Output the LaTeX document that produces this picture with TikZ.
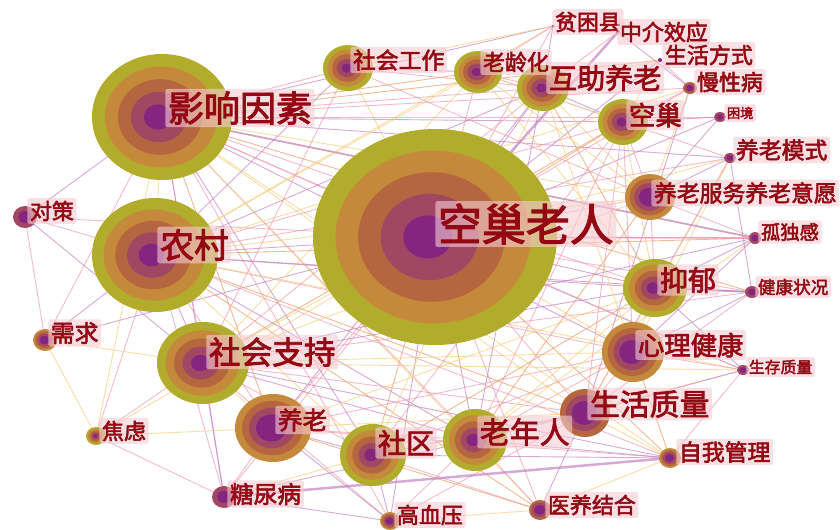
\documentclass[tikz,border=0pt]{standalone}
\usepackage{fontspec}
\newfontfamily\cjk[FakeBold=2.5]{Noto Sans CJK SC}

\definecolor{ring0}{HTML}{B2AC2C}
\definecolor{ring1}{HTML}{C4893A}
\definecolor{ring2}{HTML}{B5663F}
\definecolor{ring3}{HTML}{A24763}
\definecolor{ring4}{HTML}{84267F}
\definecolor{lbltext}{HTML}{930812}
\definecolor{lblback}{HTML}{F6CCD3}
\definecolor{eA}{HTML}{EE9DB0}
\definecolor{eB}{HTML}{C584C2}
\definecolor{eC}{HTML}{F5CF7E}
\definecolor{eD}{HTML}{EC9C64}

\begin{document}
\begin{tikzpicture}[x=0.02cm, y=-0.02cm]
	\tikzset{
		link/.style={line width=0.5pt, opacity=0.7},
		keyword/.style={anchor=west, font=\cjk, text=lbltext, fill=lblback,
			fill opacity=0.6, text opacity=1, inner sep=1.5pt, rounded corners=1pt}
	}
	\fill[white] (0,0) rectangle (840,529);
	\useasboundingbox (0,0) rectangle (840,529);

	% keyword centres
	\foreach \n/\x/\y in {kcl/435/237, yxys/162/117, nc/155/255, shzc/203/363,
		yl/273/428, sq/373/455, lnr/475/440, shzl/585/413, xljk/633/352,
		yy/655/288, ylfw/650/197, kc/623/122, hzyl/543/88, llh/478/72,
		shgz/348/68, pkx/553/26, zjxy/618/32, shfs/660/60, mxb/690/88,
		kj/720/117, ylms/730/158, gdg/755/238, jkzk/752/292, sczl/743/370,
		zwgl/670/458, yyjh/540/510, gxy/390/521, tnb/224/497, jl/96/436,
		xq/45/340, dc/25/217}
	\coordinate (\n) at (\x,\y);

	% co-occurrence links
	\foreach \a/\b/\c in {kcl/yxys/A, kcl/nc/B, kcl/shzc/C, kcl/yl/A, kcl/sq/D,
		kcl/lnr/B, kcl/shzl/A, kcl/xljk/C, kcl/yy/B, kcl/ylfw/A, kcl/kc/D,
		kcl/hzyl/B, kcl/llh/A, kcl/shgz/C, kcl/pkx/A, kcl/shfs/B, kcl/mxb/A,
		kcl/kj/B, kcl/ylms/C, kcl/gdg/B, kcl/jkzk/A, kcl/sczl/B, kcl/zwgl/D,
		kcl/yyjh/A, kcl/gxy/B, kcl/tnb/A, kcl/jl/C, kcl/xq/B, kcl/dc/A,
		yxys/nc/C, yxys/shzc/A, yxys/yl/D, yxys/sq/B, yxys/lnr/A, yxys/shzl/C,
		yxys/xljk/B, yxys/yy/A, yxys/ylfw/C, yxys/kc/B, yxys/hzyl/A, yxys/llh/D,
		yxys/shgz/A, yxys/dc/B, yxys/xq/A, yxys/jl/C, yxys/tnb/B, yxys/gdg/C,
		yxys/jkzk/D, yxys/sczl/A, yxys/zwgl/C, yxys/mxb/A, yxys/pkx/B,
		yxys/shfs/D, yxys/ylms/B, yxys/kj/A, yxys/yyjh/C, yxys/gxy/A,
		nc/shzc/B, nc/yl/A, nc/sq/C, nc/lnr/B, nc/shzl/D, nc/xljk/A, nc/yy/B,
		nc/ylfw/C, nc/dc/A, nc/xq/B, nc/jl/A, nc/llh/C, nc/hzyl/B, nc/kc/A,
		nc/jkzk/B, nc/ylms/A, nc/gdg/D, nc/sczl/C, nc/zwgl/A, nc/pkx/C,
		nc/shgz/B, nc/mxb/C, nc/tnb/A, nc/yyjh/D,
		shzc/yl/C, shzc/sq/A, shzc/lnr/B, shzc/shzl/A, shzc/xljk/C, shzc/yy/B,
		shzc/jl/A, shzc/tnb/B, shzc/xq/C, shzc/gxy/A, shzc/gdg/B, shzc/kc/D,
		shzc/hzyl/A, shzc/ylfw/C, shzc/jkzk/A, shzc/sczl/C, shzc/zwgl/B,
		shzc/shgz/A, shzc/llh/C, shzc/dc/B,
		yl/sq/B, yl/lnr/A, yl/shzl/C, yl/tnb/A, yl/gxy/B, yl/yyjh/D,
		yl/xljk/A, yl/yy/C, yl/hzyl/B, yl/jl/C, yl/zwgl/A,
		sq/lnr/C, sq/shzl/B, sq/yyjh/A, sq/gxy/B, sq/xljk/A, sq/yy/D,
		sq/hzyl/C, sq/kc/A, sq/zwgl/B, sq/tnb/C,
		lnr/shzl/B, lnr/xljk/A, lnr/yy/C, lnr/zwgl/B, lnr/yyjh/A, lnr/tnb/B,
		lnr/kc/A, lnr/ylfw/D, lnr/gdg/C, lnr/gxy/A, lnr/sczl/C, lnr/hzyl/B,
		shzl/xljk/A, shzl/yy/B, shzl/zwgl/C, shzl/sczl/B, shzl/jkzk/A,
		shzl/mxb/B, shzl/gxy/A, shzl/ylms/C, shzl/kc/A, shzl/yyjh/B,
		xljk/yy/C, xljk/jkzk/B, xljk/sczl/A, xljk/gdg/B, xljk/ylms/C,
		xljk/kc/A, xljk/zwgl/D, xljk/hzyl/C,
		yy/gdg/B, yy/jkzk/B, yy/ylfw/A, yy/kc/C, yy/sczl/B, yy/ylms/A,
		yy/hzyl/D, yy/llh/C,
		ylfw/ylms/B, ylfw/kc/A, ylfw/hzyl/C, ylfw/kj/B, ylfw/gdg/A, ylfw/mxb/C,
		kc/hzyl/B, kc/mxb/A, kc/kj/B, kc/ylms/A, kc/shfs/C, kc/llh/D,
		hzyl/llh/A, hzyl/pkx/B, hzyl/zjxy/A, hzyl/shfs/C, hzyl/shgz/A,
		llh/shgz/B, llh/pkx/A, shgz/pkx/C, mxb/shfs/A, mxb/zjxy/B,
		zjxy/pkx/A, tnb/gxy/B, ylms/jkzk/B, zwgl/sczl/A, yyjh/zwgl/C,
		dc/xq/A, xq/jl/C, jl/tnb/A, gxy/yyjh/C, shgz/ylfw/A, llh/ylfw/C}
	\draw[link, color=e\c] (\a) -- (\b);
	\draw[link, color=eB, line width=1.4pt] (tnb) -- (zwgl);
	\draw[link, color=eB, line width=1.4pt] (zjxy) -- (kcl);
	\draw[link, color=eB, line width=1.0pt] (yy) -- (jkzk);
	\draw[link, color=eB, line width=1.0pt] (yxys) -- (gdg);
	\draw[link, color=eA, line width=1.0pt] (kcl) -- (gdg);

	% ring nodes
	\foreach \n/\s/\rx/\ry in {kcl/0/122/108, yxys/0/70/63, nc/0/63/57,
		shzc/0/46/41, yl/1/38/34, sq/0/33/31, lnr/0/32/31, shzl/2/25/24,
		xljk/1/31/30, yy/0/32/29, ylfw/1/25/23, kc/0/25/23, hzyl/0/26/23,
		llh/0/24/21, shgz/0/25/23, pkx/4/1.5/1.5, zjxy/4/2/2, shfs/4/2/2,
		mxb/2/7/6, kj/3/6/5, ylms/3/6/5, gdg/3/6/6, jkzk/3/7/6, sczl/3/6/5,
		zwgl/1/11/10, yyjh/2/11/10, gxy/1/10/9, tnb/3/12/11, jl/0/10/9,
		xq/1/12/11, dc/3/12/11}
	{
		\pgfmathsetmacro\m{5-\s}
		\pgfmathsetmacro\st{\m>3.5 ? 0.2 : (\m>2.5 ? 0.25 : 0.45)}
		\foreach \j in {\s,...,4}{
			\pgfmathsetmacro\ra{(1-(\j-\s)*\st)*\rx}
			\pgfmathsetmacro\rb{(1-(\j-\s)*\st)*\ry}
			\pgfmathsetmacro\dx{0.0085*\rx*(\j-\s)}
			\fill[color=ring\j] ([xshift=-\dx pt]\n) ellipse [x radius=\ra, y radius=\rb];
		}
	}

	% labels
	\foreach \n/\x/\y/\s/\t in {kcl/435/224/25/空巢老人, yxys/165/108/20.5/影响因素,
		nc/157/245/19.5/农村, shzc/206/352/18/社会支持, yl/275/420/14/养老,
		sq/375/443/16/社区, lnr/477/432/17/老年人, shzl/587/404/17/生活质量,
		xljk/635/345/15/心理健康, yy/657/280/16/抑郁,
		ylfw/651/193/13/养老服务养老意愿, kc/626/115/15/空巢,
		hzyl/546/78/16/互助养老, llh/480/62/12.5/老龄化, shgz/350/60/13/社会工作,
		pkx/552/22/12.5/贫困县, zjxy/617/32/12.5/中介效应,
		shfs/662/55/12.5/生活方式, mxb/694/82/12.5/慢性病, kj/724/113/7.5/困境,
		ylms/733/150/13/养老模式, gdg/758/232/11/孤独感, jkzk/755/287/10/健康状况,
		sczl/746/367/9/生存质量, zwgl/676/452/13/自我管理,
		yyjh/545/505/12.5/医养结合, gxy/394/515/12.5/高血压,
		tnb/227/494/13.5/糖尿病, jl/99/431/12.5/焦虑, xq/48/333/13.5/需求,
		dc/27/211/12.5/对策}
	\node[keyword] (l-\n) at (\x,\y) {\fontsize{\s}{\s}\selectfont\t};
\end{tikzpicture}
\end{document}
